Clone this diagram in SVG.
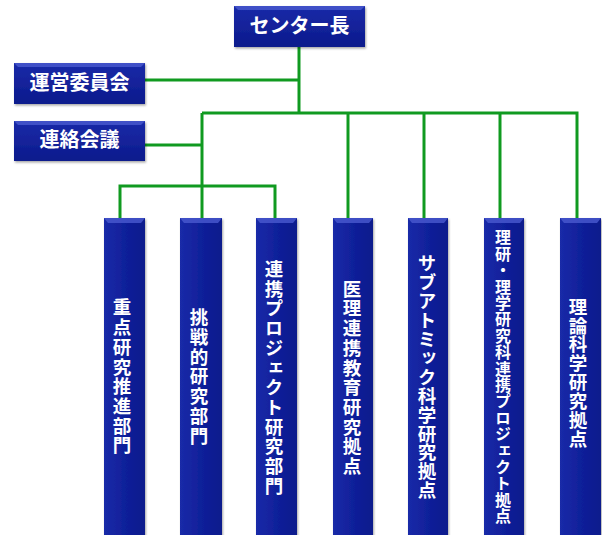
<svg xmlns="http://www.w3.org/2000/svg" width="602" height="535" viewBox="0 0 602 535">
<defs>
<linearGradient id="boxg" x1="0" y1="0" x2="0" y2="1">
<stop offset="0" stop-color="#1a2aa8"/>
<stop offset="1" stop-color="#0c1a8c"/>
</linearGradient>
<linearGradient id="colg" x1="0" y1="0" x2="1" y2="0">
<stop offset="0" stop-color="#1a2aa8"/>
<stop offset="0.5" stop-color="#10209a"/>
<stop offset="1" stop-color="#0c1a8c"/>
</linearGradient>
<filter id="sh" x="-10%" y="-10%" width="130%" height="130%">
<feDropShadow dx="1" dy="1.5" stdDeviation="1.2" flood-color="#000" flood-opacity="0.35"/>
</filter>
</defs>
<style>
.box{fill:url(#boxg);filter:url(#sh)}
.col{fill:url(#colg);filter:url(#sh)}
.bev{fill:#4a5ad0;opacity:0.8}
.t{font-family:"Noto Sans CJK JP","Liberation Sans",sans-serif;font-weight:bold;fill:#fff;font-size:20px;text-anchor:middle}
.v{font-family:"Noto Sans CJK JP","Liberation Sans",sans-serif;font-weight:bold;fill:#fff;font-size:18.5px;text-anchor:middle;writing-mode:vertical-rl;letter-spacing:1.2px}
.ln{stroke:#109a20;stroke-width:3;fill:none;stroke-linejoin:miter}
</style>
<g id="connectors">
<path class="ln" d="M299,47 V113"/>
<path class="ln" d="M145,80 H299"/>
<path class="ln" d="M202,113 H577 V218"/>
<path class="ln" d="M202,113 V218"/>
<path class="ln" d="M145,145 H202"/>
<path class="ln" d="M120,218 V186 H275 V218"/>
<path class="ln" d="M348,113 V218"/>
<path class="ln" d="M424,113 V218"/>
<path class="ln" d="M500,113 V218"/>
</g>
<g id="center-head">
<rect class="box" x="234" y="6" width="131" height="41"/>
<polygon class="bev" points="234,6 365,6 361,10 238,10"/>
<text class="t" x="299.5" y="33">センター長</text>
</g>
<g id="steering">
<rect class="box" x="14" y="63" width="131" height="41"/>
<polygon class="bev" points="14,63 145,63 141,67 18,67"/>
<text class="t" x="79.5" y="90">運営委員会</text>
</g>
<g id="liaison">
<rect class="box" x="14" y="121" width="131" height="40"/>
<polygon class="bev" points="14,121 145,121 141,125 18,125"/>
<text class="t" x="79.5" y="147">連絡会議</text>
</g>
<g id="col1">
<rect class="col" x="104" y="218" width="41" height="322"/>
<polygon class="bev" points="104,218 145,218 141,223 108,223"/>
<text class="v" x="122" y="377">重点研究推進部門</text>
</g>
<g id="col2">
<rect class="col" x="180" y="218" width="42" height="322"/>
<polygon class="bev" points="180,218 222,218 218,223 184,223"/>
<text class="v" x="199" y="377">挑戦的研究部門</text>
</g>
<g id="col3">
<rect class="col" x="256" y="218" width="41" height="322"/>
<polygon class="bev" points="256,218 297,218 293,223 260,223"/>
<text class="v" x="274" y="378">連携プロジェクト研究部門</text>
</g>
<g id="col4">
<rect class="col" x="333" y="218" width="40" height="322"/>
<polygon class="bev" points="333,218 373,218 369,223 337,223"/>
<text class="v" x="352" y="378">医理連携教育研究拠点</text>
</g>
<g id="col5">
<rect class="col" x="408" y="218" width="40" height="322"/>
<polygon class="bev" points="408,218 448,218 444,223 412,223"/>
<text class="v" x="427" y="377" style="letter-spacing:0.4px">サブアトミック科学研究拠点</text>
</g>
<g id="col6">
<rect class="col" x="484" y="218" width="40" height="322"/>
<polygon class="bev" points="484,218 524,218 520,223 488,223"/>
<text class="v" x="503" y="377" style="font-size:16px;letter-spacing:0.4px">理研・理学研究科連携プロジェクト拠点</text>
</g>
<g id="col7">
<rect class="col" x="560" y="218" width="41" height="322"/>
<polygon class="bev" points="560,218 601,218 597,223 564,223"/>
<text class="v" x="578" y="373" style="letter-spacing:0.4px">理論科学研究拠点</text>
</g>
</svg>
